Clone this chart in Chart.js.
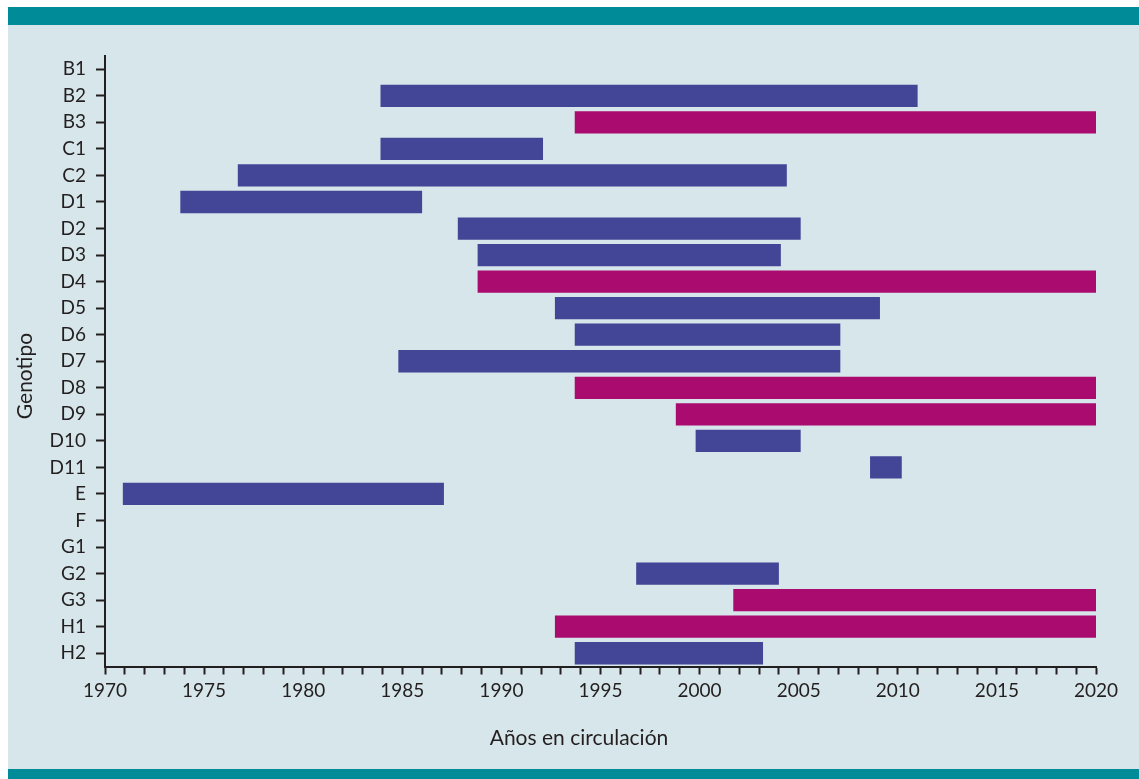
<!DOCTYPE html>
<html>
<head>
<meta charset="utf-8">
<script src="https://cdn.jsdelivr.net/npm/chart.js@4/dist/chart.umd.min.js"></script>
<style>
  html, body { margin: 0; padding: 0; background: #ffffff; }
  #wrap { width: 1139px; height: 779px; }
</style>
</head>
<body>
<div id="wrap"><canvas id="c" width="1139" height="779"></canvas></div>
<script>
// ---- Data ----
const genotypes = ['B1','B2','B3','C1','C2','D1','D2','D3','D4','D5','D6','D7','D8','D9','D10','D11','E','F','G1','G2','G3','H1','H2'];

// Blue series (circulation periods)
const blueStart = [null, 1983.9, null, 1983.9, 1976.7, 1973.8, 1987.8, 1988.8, null, 1992.7, 1993.7, 1984.8, null, null, 1999.8, 2008.6, 1970.9, null, null, 1996.8, null, null, 1993.7];
const blueEnd   = [null, 2011.0, null, 1992.1, 2004.4, 1986.0, 2005.1, 2004.1, null, 2009.1, 2007.1, 2007.1, null, null, 2005.1, 2010.2, 1987.1, null, null, 2004.0, null, null, 2003.2];

// Magenta series (still circulating)
const magentaStart = [null, null, 1993.7, null, null, null, null, null, 1988.8, null, null, null, 1993.7, 1998.8, null, null, null, null, null, null, 2001.7, 1992.7, null];
const magentaEnd   = [null, null, 2020.0, null, null, null, null, null, 2020.0, null, null, null, 2020.0, 2020.0, null, null, null, null, null, null, 2020.0, 2020.0, null];

const xMin = 1970;
const xMax = 2020;
const xLabelStep = 5;

const xTitle = 'Años en circulación';
const yTitle = 'Genotipo';

// ---- Build ----
function ranges(s, e) {
  return s.map((v, i) => (v === null || e[i] === null) ? null : [v, e[i]]);
}

const INK = '#231f20';
const FONT = 'Lato, "Open Sans", sans-serif';

const background = {
  id: 'background',
  beforeDraw(chart) {
    const ctx = chart.ctx;
    ctx.save();
    ctx.fillStyle = '#ffffff';
    ctx.fillRect(0, 0, chart.width, chart.height);
    ctx.fillStyle = '#d7e6ea';
    ctx.fillRect(8, 7, chart.width - 8, chart.height - 7);
    ctx.fillStyle = '#008b99';
    ctx.fillRect(8, 7, chart.width - 8, 18);
    ctx.fillRect(8, 769, chart.width - 8, 10);
    ctx.restore();
  }
};

const axisTitles = {
  id: 'axisTitles',
  afterDraw(chart) {
    const ctx = chart.ctx;
    ctx.save();
    ctx.fillStyle = INK;
    ctx.font = '21px ' + FONT;
    ctx.textAlign = 'center';
    ctx.textBaseline = 'alphabetic';
    ctx.fillText(xTitle, 579, 745);
    ctx.translate(32, 376);
    ctx.rotate(-Math.PI / 2);
    ctx.fillText(yTitle, 0, 0);
    ctx.restore();
  }
};

new Chart(document.getElementById('c'), {
  type: 'bar',
  data: {
    labels: genotypes,
    datasets: [
      {
        label: 'Azul',
        data: ranges(blueStart, blueEnd),
        backgroundColor: '#434596',
        borderWidth: 0,
        grouped: false,
        barPercentage: 0.84,
        categoryPercentage: 1.0
      },
      {
        label: 'Magenta',
        data: ranges(magentaStart, magentaEnd),
        backgroundColor: '#aa0b6e',
        borderWidth: 0,
        grouped: false,
        barPercentage: 0.84,
        categoryPercentage: 1.0
      }
    ]
  },
  options: {
    indexAxis: 'y',
    responsive: false,
    animation: false,
    devicePixelRatio: 1,
    layout: { padding: { left: 0, top: 56, right: 43, bottom: 0 } },
    plugins: {
      legend: { display: false },
      tooltip: { enabled: false },
      title: { display: false }
    },
    scales: {
      x: {
        type: 'linear',
        min: xMin,
        max: xMax,
        afterFit(scale) { scale.height = 112.5; },
        grid: {
          drawOnChartArea: false,
          drawTicks: true,
          tickLength: 8,
          tickWidth: 2,
          tickColor: INK
        },
        border: { display: true, color: INK, width: 2 },
        ticks: {
          stepSize: 1,
          autoSkip: false,
          maxRotation: 0,
          padding: 5,
          color: INK,
          font: { family: FONT, size: 19 },
          callback: (v) => (v % xLabelStep === 0 ? String(v) : '')
        }
      },
      y: {
        type: 'category',
        offset: true,
        afterFit(scale) { scale.width = 105; },
        grid: {
          drawOnChartArea: false,
          drawTicks: true,
          tickLength: 9,
          tickWidth: 2,
          tickColor: INK,
          offset: false
        },
        border: { display: true, color: INK, width: 2 },
        ticks: {
          padding: 10,
          color: INK,
          font: { family: FONT, size: 19 },
          autoSkip: false
        }
      }
    }
  },
  plugins: [background, axisTitles]
});
</script>
</body>
</html>
